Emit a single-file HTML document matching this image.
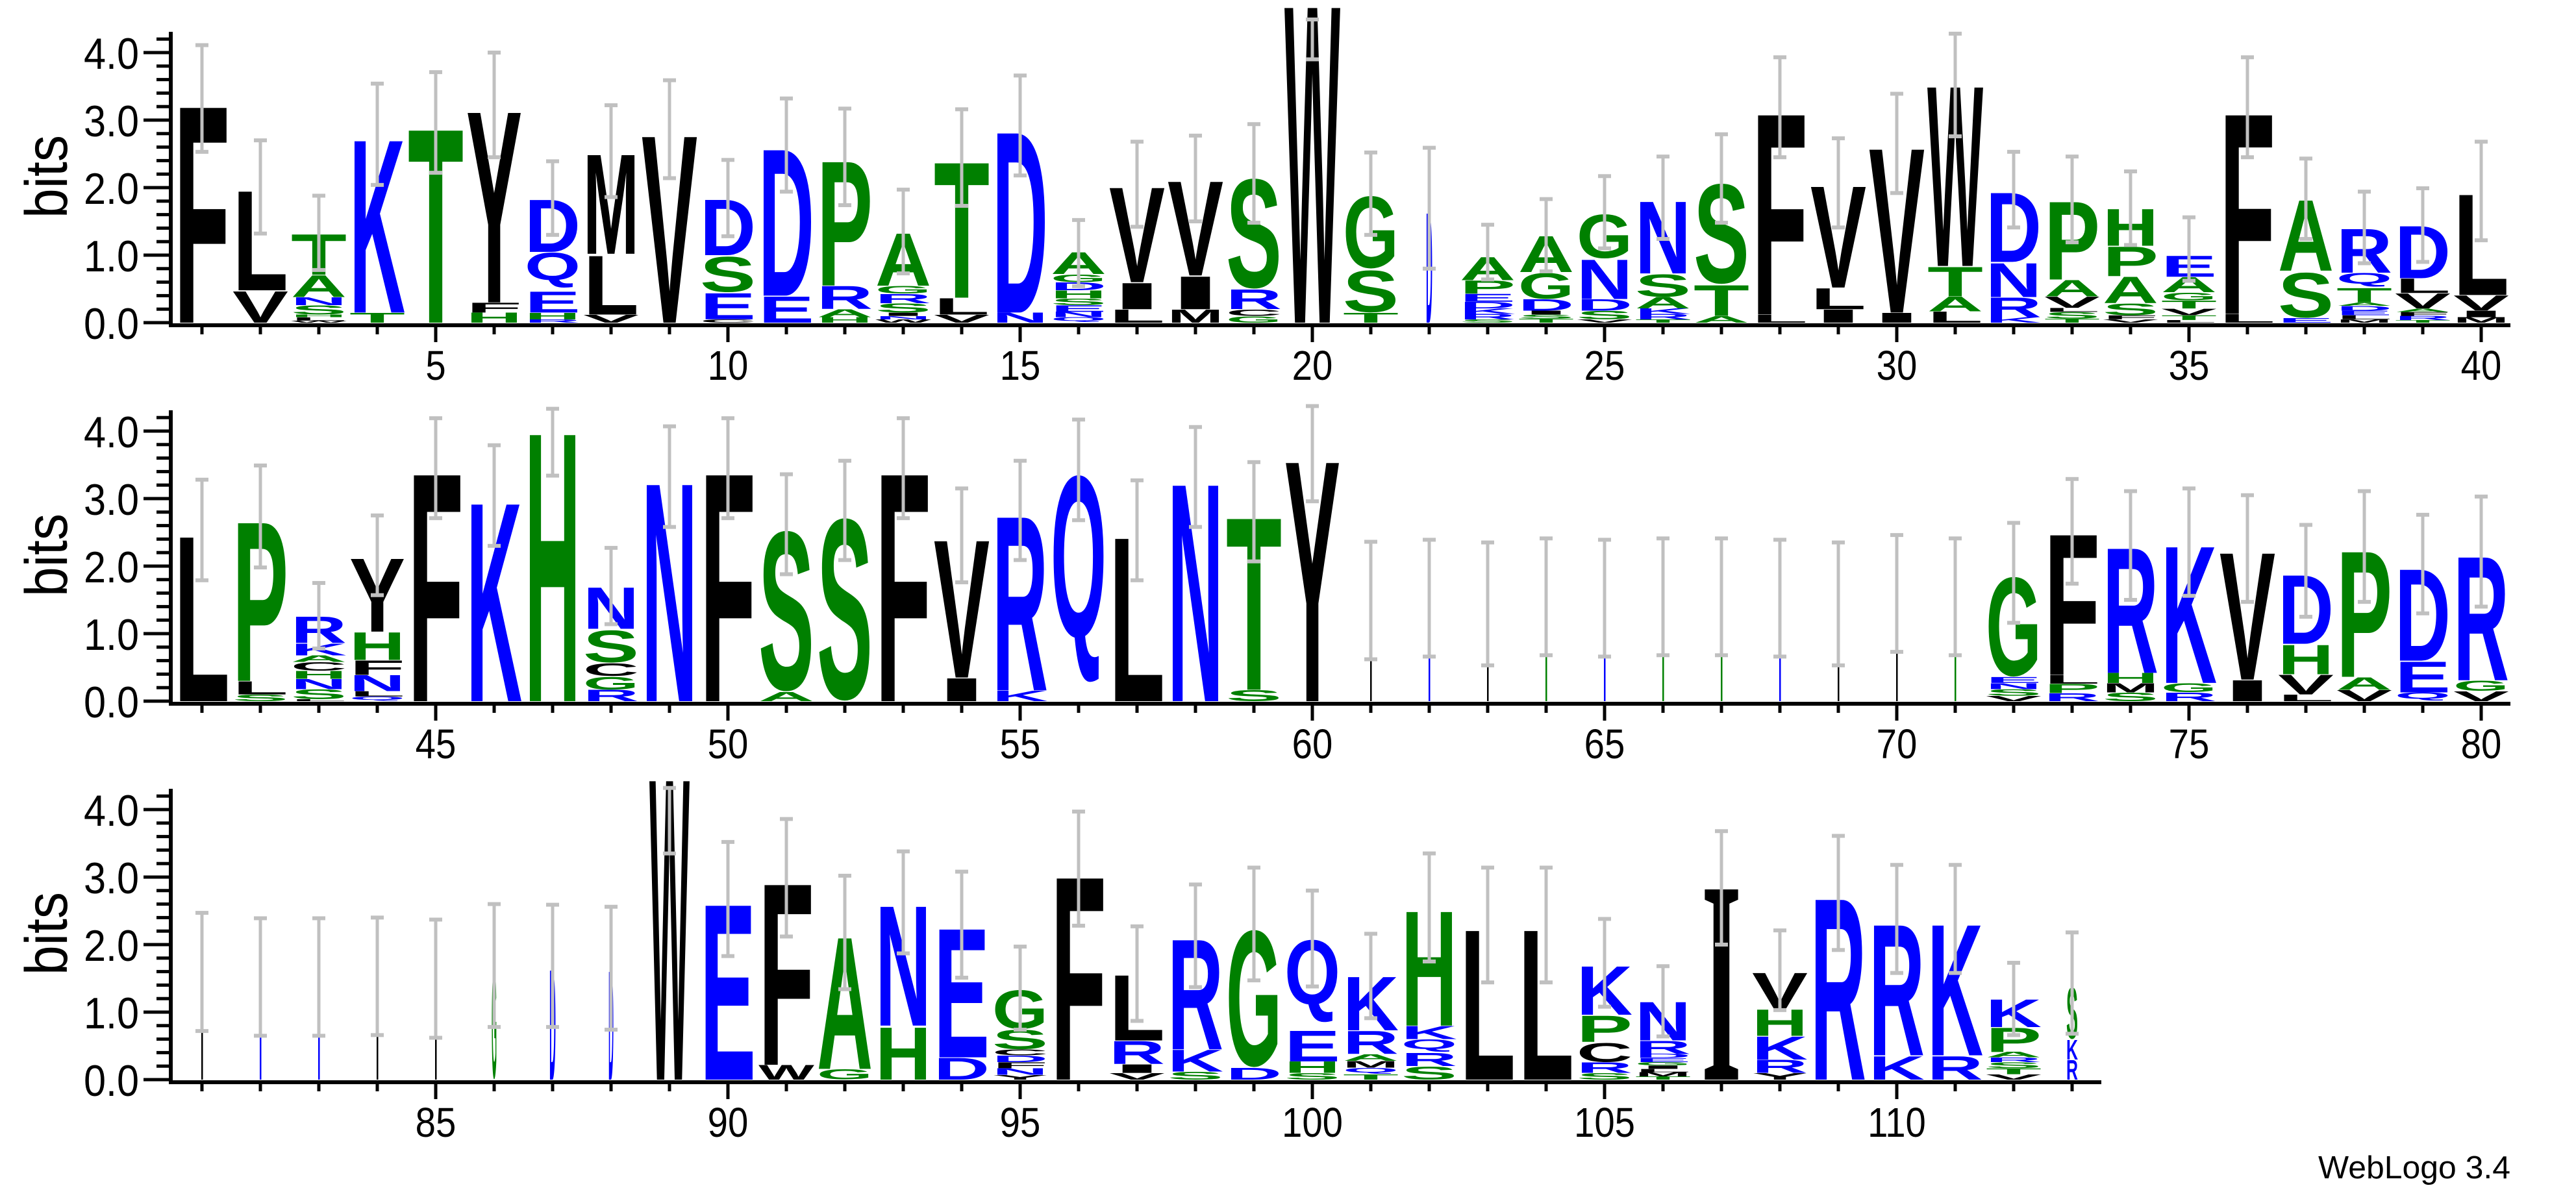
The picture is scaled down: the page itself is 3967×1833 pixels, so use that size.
<!DOCTYPE html>
<html><head><meta charset="utf-8">
<style>
html,body{margin:0;padding:0;background:#fff;}
svg{display:block;}
text{font-family:"Liberation Sans",sans-serif;}
</style></head>
<body>
<svg id="s" xmlns="http://www.w3.org/2000/svg" width="3967" height="1833" viewBox="0 0 3967 1833"></svg>
<script>
(function(){
var D={
1:["F3.31",2.53,4.12],2:["V.48 L1.52",1.32,2.71],3:["W.03 L.05 H.04 S.14 N.12 A.33 T.62",.78,1.89],
4:["T.15 K2.64",2.04,3.55],5:["T2.96",2.22,3.72],6:["H.15 F.15 Y2.92",2.45,4.01],
7:["R.05 H.1 E.32 Q.58 D.8",1.3,2.4],8:["V.12 L.9 M1.52",1.86,3.23],9:["V2.86",2.14,3.6],
10:["C.05 E.4 S.55 D.85",1.28,2.42],11:["E.4 D2.24",1.94,3.33],12:["H.08 A.12 R.35 P1.9",1.74,3.18],
13:["W.05 N.05 I.05 S.14 R.14 G.12 A.8",.73,1.98],14:["V.12 L.25 T2.07",1.73,3.17],15:["N.15 D2.76",2.18,3.67],
16:["Q.08 N.08 E.1 S.1 H.12 D.12 G.12 A.33",.54,1.53],17:["L.2 I.4 V1.45",1.42,2.69],18:["M.2 I.5 V1.44",1.5,2.78],
19:["G.1 C.1 R.3 S1.7",1.48,2.95],20:["W4.85",3.9,4.5],21:["T.15 S.65 G1.12",1.3,2.53],
22:["D1.68",.8,2.6,10],23:["S.05 R.08 K.08 D.1 E.12 P.2 A.35",.64,1.46],24:["T.06 S.06 I.06 D.17 G.4 A.55",.76,1.84],
25:["V.05 S.13 D.17 N.6 G.68",1.1,2.18],26:["T.05 R.08 K.08 A.17 S.35 N1.1",1.24,2.47],27:["A.1 T.47 S1.55",1.48,2.8],
28:["L.12 F3.07",2.45,3.94],29:["I.2 L.32 V1.55",1.41,2.74],30:["I.15 V2.51",1.92,3.4],
31:["L.17 A.22 T.45 W2.75",2.76,4.29],32:["K.08 R.3 N.52 D1.06",1.41,2.54],33:["T.06 S.1 L.06 V.17 A.25 P1.19",1.19,2.47],
34:["V.05 F.06 S.18 A.4 P.45 H.56",1.15,2.25],35:["L.04 T.07 V.1 T.12 G.12 A.23 E.32",.62,1.57],36:["L.13 F3.06",2.45,3.94],
37:["E.07 S.7 A1.08",1.24,2.44],38:["M.05 L.06 E.07 D.07 A.05 T.22 Q.22 R.67",.88,1.95],39:["T.04 R.06 F.06 A.05 V.23 L.22 D.8",.9,2.0],
40:["M.08 I.1 V.23 L1.54",1.22,2.69],
41:["L2.52",1.79,3.29],42:["S.1 L.2 P2.43",1.98,3.5],43:["L.03 S.15 N.15 H.12 C.13 A.1 K.18 R.4",.78,1.76],
44:["Q.07 L.08 N.24 F.22 H.42 Y1.12",1.57,2.76],45:["F3.48",2.71,4.2],46:["K3.03",2.3,3.8],47:["H4.1",3.34,4.34],
48:["R.17 G.2 C.2 S.5 N.63",1.14,2.28],49:["N3.33",2.58,4.08],50:["F3.48",2.71,4.2],51:["A.14 S2.48",1.88,3.37],
52:["S2.82",2.09,3.57],53:["F3.48",2.71,4.2],54:["I.35 V2.1",1.76,3.16],55:["K.16 R2.66",2.09,3.57],
56:["Q3.42",2.68,4.18],57:["L2.5",1.79,3.28],58:["N3.32",2.58,4.07],59:["S.17 T2.63",2.07,3.55],60:["Y3.67",2.96,4.38],
61:["L1.49",.62,2.37,3],62:["D1.53",.66,2.4,3],63:["L1.45",.53,2.36,3],64:["G1.55",.68,2.42,3],65:["D1.53",.66,2.4,3],
66:["G1.55",.68,2.42,3],67:["G1.55",.68,2.42,3],68:["D1.53",.66,2.4,3],69:["L1.45",.53,2.36,3],70:["L1.6",.73,2.47,3],
71:["G1.55",.68,2.42,3],72:["V.08 S.1 N.09 E.09 G1.54",1.16,2.65],73:["R.12 P.14 L.13 F2.15",1.74,3.3],
74:["S.13 M.14 H.15 R1.91",1.5,3.12],75:["R.13 G.14 K2.09",1.56,3.16],76:["I.32 V1.94",1.47,3.06],
77:["L.1 V.3 H.45 D1.05",1.25,2.62],78:["V.17 A.19 P1.92",1.47,3.12],79:["Q.13 E.47 D1.4",1.3,2.77],80:["V.15 G.16 R1.89",1.4,3.04],
81:["L1.59",.72,2.48,3],82:["D1.53",.65,2.4,3],83:["D1.53",.65,2.4,3],84:["L1.55",.66,2.41,3],85:["L1.49",.62,2.38,3],
86:["G1.69",.78,2.61,8],87:["D1.68",.78,2.6,10],88:["D1.66",.74,2.57,8],89:["W4.6",3.35,4.33,62],
90:["E2.68",1.83,3.53],91:["W.22 F2.77",2.12,3.87],92:["G.16 A2.01",1.34,3.03],93:["H.8 N1.83",1.87,3.39],
94:["D.33 E1.97",1.51,3.09],95:["Y.07 N.1 F.09 D.1 C.09 S.3 G.6",.74,1.98],96:["F3.1",2.28,3.98],
97:["V.1 I.13 R.35 L1.0",.87,2.28],98:["S.12 K.33 R1.68",1.37,2.9],99:["D.18 G2.12",1.47,3.15],
100:["S.1 H.17 E.47 Q1.36",1.38,2.81],101:["T.08 Q.1 M.1 A.1 R.35 K.82",.91,2.17],102:["S.2 R.2 Q.2 K.2 H1.75",1.75,3.36],
103:["L2.29",1.44,3.15],104:["L2.29",1.44,3.15],105:["S.1 R.16 C.3 P.4 K.74",1.08,2.39],
106:["T.05 M.06 L.05 I.05 G.05 E.06 D.06 R.2 N.59",.64,1.69],107:["i2.84",2.0,3.69,62],
108:["Y.1 R.2 K.35 H.4 V.55",1.03,2.22],109:["R2.77",1.92,3.62],110:["K.36 R2.0",1.58,3.19],111:["R.36 K2.0",1.58,3.19],
112:["V.08 T.09 S.09 R.07 A.08 P.37 K.42",.66,1.74],113:["R.3 K.3 S.8",.68,2.19,18]
};
function col(c){if("DEKRNQ".indexOf(c)>=0)return"#0000ff";if("AGHPST".indexOf(c)>=0)return"#008000";return"#000";}
var S=document.getElementById("s"),out=[];
var U=104,base=[497,1080,1663],ends=[3866,3866,3236];
function T(x,y,s,a,extra){return '<text x="'+x+'" y="'+y+'" font-size="'+s+'" text-anchor="'+a+'" '+(extra||"")+'>';}
for(var r=0;r<3;r++){
 var y0=base[r];
 out.push('<rect x="260" y="'+(y0-448)+'" width="6" height="455" fill="#000"/>');
 out.push('<rect x="260" y="'+(y0+1)+'" width="'+(ends[r]-260)+'" height="6" fill="#000"/>');
 for(var k=0;k<=21;k++){var yy=y0-k*0.2*U;var mj=(k%5==0);
  out.push('<rect x="'+(mj?221:241)+'" y="'+(yy-2.5)+'" width="'+(mj?42:22)+'" height="5" fill="#000"/>');
  if(mj&&k<=20) out.push(T(214,yy+25,68,"end",'transform="translate(214 0) scale(0.9 1) translate(-214 0)"')+(k/5).toFixed(1)+'</text>');
 }
 out.push('<text font-size="92" text-anchor="middle" textLength="128" lengthAdjust="spacingAndGlyphs" transform="translate(103 '+(y0-225)+') rotate(-90)">bits</text>');
 for(var i=1;i<=40;i++){var n=r*40+i;if(n>113)break;var cx=311+90*(i-1);
  var mj2=(n%5==0);
  out.push('<rect x="'+(cx-2.5)+'" y="'+(y0+4)+'" width="5" height="'+(mj2?26:14)+'" fill="#000"/>');
  if(mj2) out.push(T(cx,y0+88,64,"middle",'transform="translate('+cx+' 0) scale(0.88 1) translate('+(-cx)+' 0)"')+n+'</text>');
  var d=D[n],w=d[3]||86,yb=y0;
  d[0].split(" ").forEach(function(t){var c=t[0],h=parseFloat(t.slice(1))*U;
   if(w<=3){out.push('<rect x="'+(cx-1)+'" y="'+(yb-h)+'" width="2.5" height="'+h+'" fill="'+col(c)+'"/>');yb-=h;return;}
   var serif=(c=="i");var ch=serif?"I":c;var cap=serif?66:71.6,off=0;
   if(c=="Q"){cap=100;off=28;}
   if(c=="G"||c=="S"||c=="C"){cap=74;off=1.2;}
   var sc=h/cap;
   out.push('<text transform="translate('+(cx-w/2)+' '+(yb-off*sc)+') scale(1 '+sc.toFixed(4)+')" x="0" y="0" font-size="100" font-weight="bold" '+(serif?'style="font-family:\'Liberation Serif\',serif"':'')+' fill="'+(serif?"#000":col(c))+'" textLength="'+w+'" lengthAdjust="spacingAndGlyphs">'+ch+'</text>');
   yb-=h;});
  var ehi=y0-d[2]*U,elo=y0-d[1]*U;
  out.push('<rect x="'+(cx-2.5)+'" y="'+ehi+'" width="5" height="'+(elo-ehi)+'" fill="#c0c0c0"/>');
  out.push('<rect x="'+(cx-10)+'" y="'+(ehi-2)+'" width="20" height="6" fill="#c0c0c0"/>');
  out.push('<rect x="'+(cx-10)+'" y="'+(elo-3)+'" width="20" height="6" fill="#c0c0c0"/>');
 }
}
out.push('<text x="3866" y="1815" font-size="49" text-anchor="end" textLength="296" lengthAdjust="spacingAndGlyphs">WebLogo 3.4</text>');
S.innerHTML=out.join("");
})();
</script>
</body></html>
